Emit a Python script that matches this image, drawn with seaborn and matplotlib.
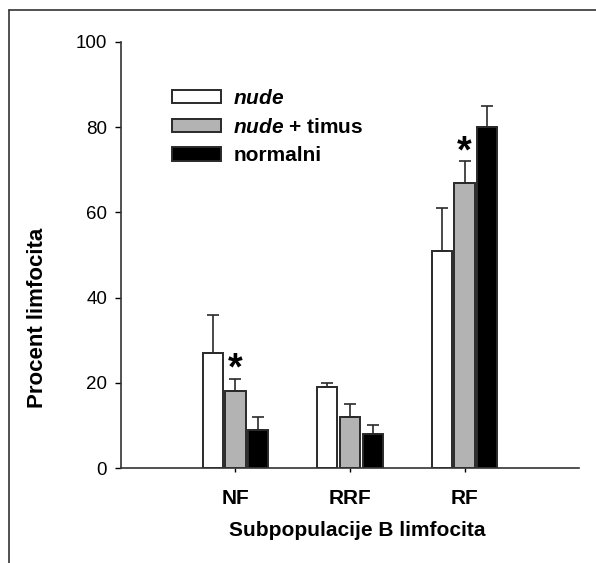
import pandas as pd
import seaborn as sns
import numpy as np
import matplotlib.pyplot as plt
from matplotlib.patches import Patch
from matplotlib.lines import Line2D

categories = ['NF', 'RRF', 'RF']
groups = ['nude', 'nude + timus', 'normalni']
nude = [27, 19, 51]
nude_err = [9, 1, 10]
nude_timus = [18, 12, 67]
nude_timus_err = [3, 3, 5]
normalni = [9, 8, 80]
normalni_err = [3, 2, 5]
significant = ['NF', 'RF']  # * above nude + timus

df = pd.DataFrame({
    'cat': categories * 3,
    'grp': np.repeat(groups, 3),
    'val': nude + nude_timus + normalni,
    'err': nude_err + nude_timus_err + normalni_err,
})

sns.set_style('ticks')
plt.rcParams['font.family'] = ['Liberation Sans', 'DejaVu Sans']
plt.rcParams['mathtext.fontset'] = 'custom'
plt.rcParams['mathtext.bfit'] = 'Liberation Sans:italic:bold'
plt.rcParams['mathtext.it'] = 'Liberation Sans:italic'
plt.rcParams['mathtext.bf'] = 'Liberation Sans:bold'
for k in ['text.color', 'axes.labelcolor', 'xtick.color', 'ytick.color']:
    plt.rcParams[k] = 'black'

colors = ['white', '#b3b3b3', 'black']
edge = '#2a2a2a'

fig = plt.figure(figsize=(5.96, 5.63), dpi=100)
ax = fig.add_axes([0.203, 0.1687, 0.7685, 0.7567])

sns.barplot(data=df, x='cat', y='val', hue='grp', order=categories, hue_order=groups,
            palette=colors, width=0.6, gap=0.12, errorbar=None, edgecolor=edge,
            linewidth=1.4, legend=False, ax=ax)

# upper error bars from bar positions
for i, g in enumerate(groups):
    bars = ax.containers[i]
    sub = df[df['grp'] == g].set_index('cat').loc[categories]
    xs = [b.get_x() + b.get_width() / 2 for b in bars]
    ax.errorbar(xs, sub['val'], yerr=[np.zeros(3), sub['err']], fmt='none',
                ecolor=edge, elinewidth=1.2, capsize=4, capthick=1.2, zorder=1)

gray = df[df['grp'] == 'nude + timus'].set_index('cat')
for c in significant:
    b = ax.containers[1][categories.index(c)]
    top = gray.loc[c, 'val'] + gray.loc[c, 'err']
    ax.text(b.get_x() + b.get_width() / 2, top - 2.2, '*', ha='center', va='bottom',
            fontsize=27, fontweight='bold')

ax.set_xlim(-1, 3)
ax.set_ylim(0, 100)
ax.set_yticks([0, 20, 40, 60, 80, 100])
ax.tick_params(axis='y', length=4, width=1, labelsize=13.5, pad=6)
ax.tick_params(axis='x', length=3, width=1, labelsize=15, pad=12)
for lab in ax.get_xticklabels():
    lab.set_fontweight('bold')
ax.set_xlabel('Subpopulacije B limfocita', fontsize=15, fontweight='bold')
ax.set_ylabel('Procent limfocita', fontsize=16, fontweight='bold')
ax.xaxis.set_label_coords(0.515, -0.124)
ax.yaxis.set_label_coords(-0.159, 0.352)
sns.despine(ax=ax)
for s in ['left', 'bottom']:
    ax.spines[s].set_linewidth(1.2)
    ax.spines[s].set_color('#333333')

handles = [Patch(facecolor=c, edgecolor=edge, linewidth=1.4) for c in colors]
labels = [r'$\mathbfit{nude}$', r'$\mathbfit{nude}$ + timus', 'normalni']
leg = ax.legend(handles, labels, loc='upper left', bbox_to_anchor=(0.111, 0.89),
                borderaxespad=0, borderpad=0, frameon=False,
                handlelength=2.35, handleheight=0.6, labelspacing=0.47,
                handletextpad=0.6, prop={'weight': 'bold', 'size': 15})

# outer frame
fig.add_artist(Line2D([0.015, 0.015], [0, 0.982], color='#333333', lw=1.2))
fig.add_artist(Line2D([0.015, 1], [0.982, 0.982], color='#333333', lw=1.2))

fig.savefig('out.png', dpi=100)
